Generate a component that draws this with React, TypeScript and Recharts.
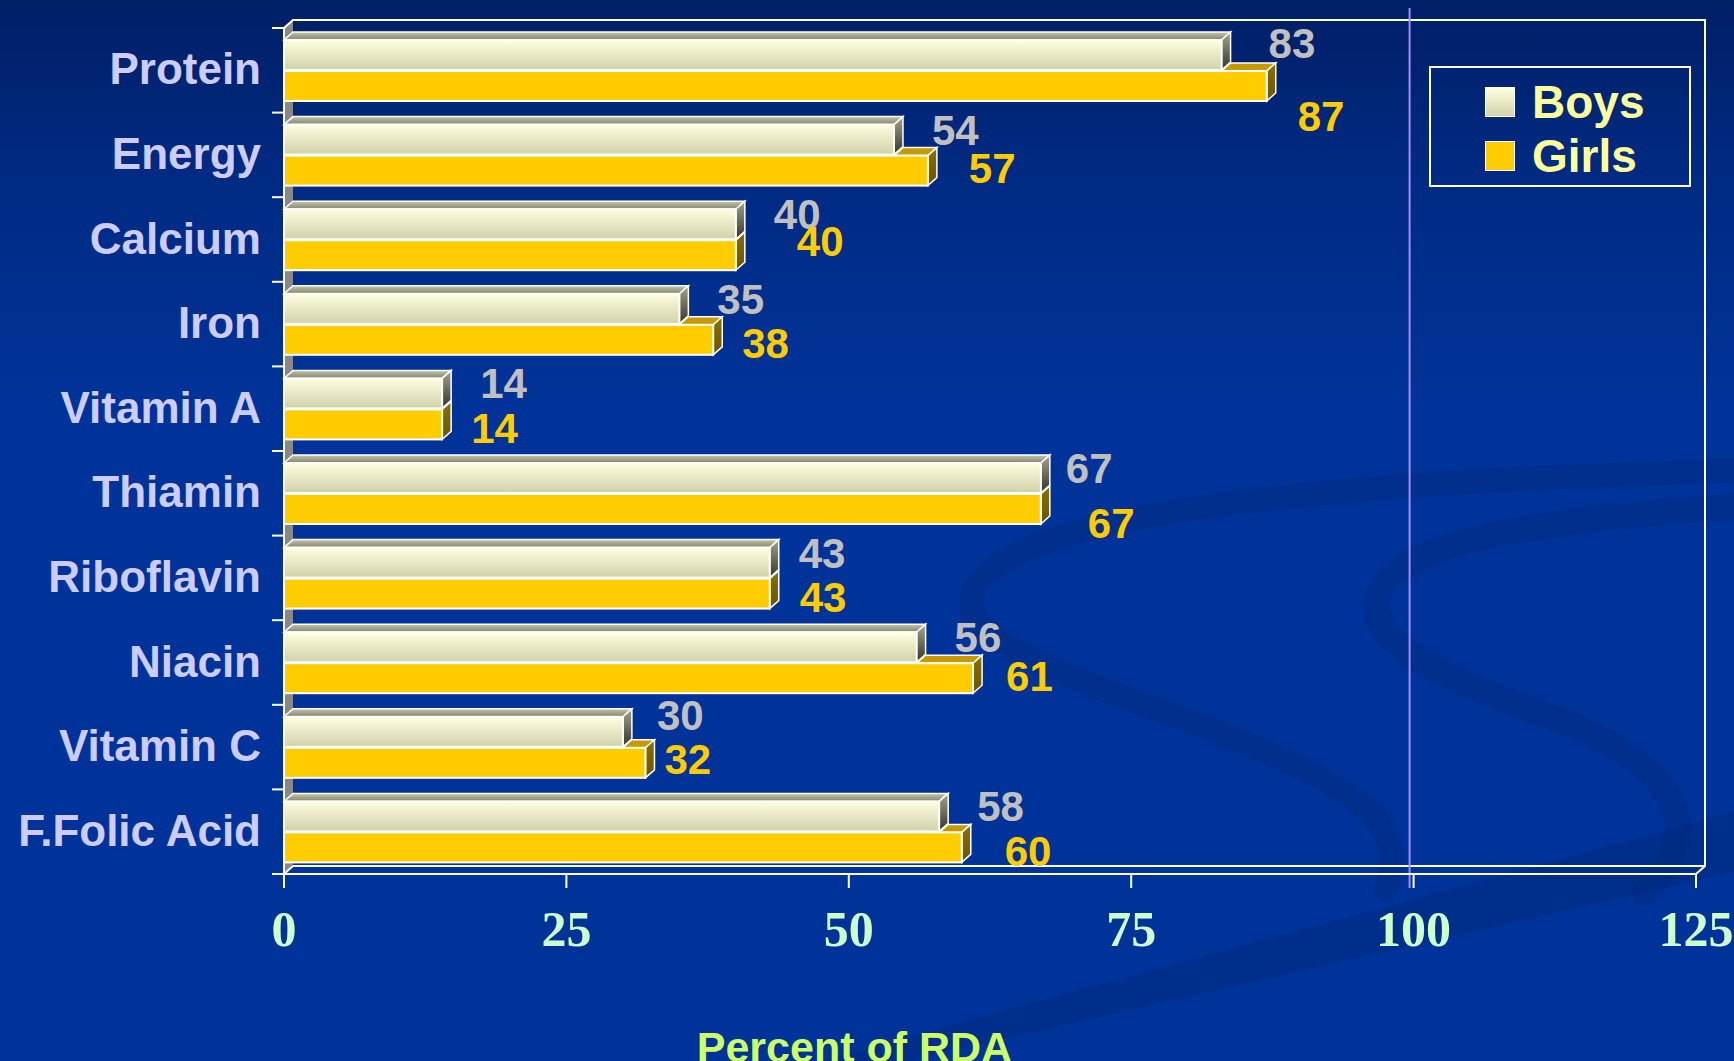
import React from "react";
import {
  BarChart,
  Bar,
  XAxis,
  YAxis,
  Legend,
  LabelList,
  ReferenceLine,
} from "recharts";

// nutrient intake as percent of RDA
const nutrients = [
  "Protein",
  "Energy",
  "Calcium",
  "Iron",
  "Vitamin A",
  "Thiamin",
  "Riboflavin",
  "Niacin",
  "Vitamin C",
  "F.Folic Acid",
];
const boysPct = [83, 54, 40, 35, 14, 67, 43, 56, 30, 58];
const girlsPct = [87, 57, 40, 38, 14, 67, 43, 61, 32, 60];
const valueTicks = [0, 25, 50, 75, 100, 125];

const data = nutrients.map((name, i) => ({
  name,
  boys: boysPct[i],
  girls: girlsPct[i],
}));

const W = 1734;
const H = 1061;
const PLOT = { left: 284, right: 1696, top: 28, bottom: 874 };
const DEPTH = { dx: 9, dy: 8 };
const BAND = (PLOT.bottom - PLOT.top) / nutrients.length;

const SANS = '"Liberation Sans", Arial, sans-serif';
const SERIF = '"Liberation Serif", "Times New Roman", serif';

// hand-placed value labels, offsets from the default spot
const BOYS_NUDGE = [
  [9, -2], [0, 0], [0, 0], [0, 0], [0, 0],
  [-13, 0], [-9, 0], [0, 0], [-4, -7], [0, 0],
];
const GIRLS_NUDGE = [
  [-2, 26], [8, -6], [28, -18], [-4, 0], [-4, 0],
  [14, 10], [-3, 0], [0, -6], [-14, -7], [10, 0],
];

function face(pts: number[][]) {
  return pts.map((p) => p.join(",")).join(" ");
}

function BoysBar(props: any) {
  const { x, y, width: w, height: h } = props;
  if (!w || w <= 0) return null;
  const { dx, dy } = DEPTH;
  return (
    <g>
      <polygon
        points={face([[x, y], [x + w, y], [x + w + dx, y - dy], [x + dx, y - dy]])}
        fill="url(#boysTop)"
        stroke="#fff"
        strokeWidth={1.5}
      />
      <polygon
        points={face([[x + w, y], [x + w + dx, y - dy], [x + w + dx, y + h - dy], [x + w, y + h]])}
        fill="url(#boysSide)"
        stroke="#fff"
        strokeWidth={1.5}
      />
      <rect x={x} y={y} width={w} height={h} fill="url(#boysFront)" stroke="#fff" strokeWidth={2} />
    </g>
  );
}

function GirlsBar(props: any) {
  const { x, y, width: w, height: h, payload } = props;
  if (!w || w <= 0) return null;
  const { dx, dy } = DEPTH;
  const end = x + w;
  // only the part of the top face not hidden under the boys bar shows
  const boysEnd = x + (w * payload.boys) / payload.girls;
  return (
    <g>
      {boysEnd < end - 0.5 && (
        <polygon
          points={face([[boysEnd, y], [end, y], [end + dx, y - dy], [boysEnd + dx, y - dy]])}
          fill="#c49a00"
          stroke="#fff"
          strokeWidth={1.5}
        />
      )}
      <polygon
        points={face([[end, y], [end + dx, y - dy], [end + dx, y + h - dy], [end, y + h]])}
        fill="url(#girlsSide)"
        stroke="#fff"
        strokeWidth={1.5}
      />
      <rect x={x} y={y} width={w} height={h} fill="#ffcc00" stroke="#fff" strokeWidth={2} />
    </g>
  );
}

function valueLabel(color: string, gap: number, shiftY: number, nudge: number[][]) {
  return (props: any) => {
    const { x, y, width, height, value, index } = props;
    const [nx, ny] = nudge[index] || [0, 0];
    return (
      <text
        x={x + width + DEPTH.dx + gap + nx}
        y={y + height / 2 + shiftY + ny + 15}
        fill={color}
        fontFamily={SANS}
        fontWeight="bold"
        fontSize={42}
      >
        {value}
      </text>
    );
  };
}

function CategoryTick(props: any) {
  const { y, payload } = props;
  const last = payload.index === nutrients.length - 1;
  return (
    <g>
      <line x1={PLOT.left - 12} x2={PLOT.left} y1={y - BAND / 2} y2={y - BAND / 2} stroke="#fff" strokeWidth={2} />
      {last && (
        <line x1={PLOT.left - 12} x2={PLOT.left} y1={y + BAND / 2} y2={y + BAND / 2} stroke="#fff" strokeWidth={2} />
      )}
      <text
        x={PLOT.left - 23}
        y={y + 14}
        textAnchor="end"
        fill="#ccccff"
        fontFamily={SANS}
        fontWeight="bold"
        fontSize={44}
      >
        {payload.value}
      </text>
    </g>
  );
}

function ValueTick(props: any) {
  const { x, y, payload } = props;
  return (
    <text
      x={x}
      y={y + 58}
      textAnchor="middle"
      fill="#ccffcc"
      fontFamily={SERIF}
      fontWeight="bold"
      fontSize={50}
    >
      {payload.value}
    </text>
  );
}

function AxisTitle(props: any) {
  const vb = props.viewBox || { x: PLOT.left, y: PLOT.bottom, width: PLOT.right - PLOT.left };
  return (
    <text
      x={vb.x + vb.width * 0.404}
      y={vb.y + 188}
      textAnchor="middle"
      fill="#ccff66"
      fontFamily={SANS}
      fontWeight="bold"
      fontSize={43}
    >
      Percent of RDA
    </text>
  );
}

const swatch: Record<string, string> = {
  boys: "linear-gradient(#ffffe0, #d2d2ac)",
  girls: "#ffcc00",
};

function LegendBox(props: any) {
  const items = props.payload || [];
  return (
    <div
      style={{
        width: 262,
        height: 121,
        boxSizing: "border-box",
        border: "2px solid #fff",
        padding: "7px 0 0 54px",
      }}
    >
      {items.map((it: any) => (
        <div key={it.value} style={{ display: "flex", alignItems: "center", height: 54 }}>
          <span
            style={{
              width: 30,
              height: 30,
              background: swatch[it.dataKey],
              border: "1.5px solid #fff",
              boxSizing: "border-box",
              marginRight: 17,
            }}
          />
          <span
            style={{
              color: "#ffff99",
              fontFamily: SANS,
              fontWeight: "bold",
              fontSize: 46,
              lineHeight: 1,
            }}
          >
            {it.value}
          </span>
        </div>
      ))}
    </div>
  );
}

// slide backdrop: swooshes and the 3D box behind the bars
function Backdrop() {
  const { left: l, right: r, top: t, bottom: b } = PLOT;
  const { dx, dy } = DEPTH;
  return (
    <svg width={W} height={H} style={{ position: "absolute", left: 0, top: 0 }}>
      <g fill="none" stroke="#00266e" strokeOpacity={0.28} strokeLinecap="round">
        <path d="M1760 470 C1450 478 1110 498 1005 560 C925 610 1000 652 1110 692 C1300 762 1425 805 1385 890" strokeWidth={24} />
        <path d="M1760 505 C1600 515 1425 532 1385 582 C1345 642 1455 682 1565 722 C1685 772 1705 832 1645 892" strokeWidth={26} />
      </g>
      <polygon points="820,1061 905,1061 1734,872 1734,812" fill="#00266e" fillOpacity={0.3} />
      <polygon
        points={face([[l, t], [l + dx, t - dy], [l + dx, b - dy], [l, b]])}
        fill="#888888"
      />
      <g stroke="#fff" strokeWidth={2} fill="none">
        <polyline points={face([[l, t], [l + dx, t - dy], [r + dx, t - dy], [r + dx, b - dy], [r, b]])} />
        <line x1={l + dx} x2={r + dx} y1={b - dy} y2={b - dy} />
        <line x1={l} x2={l + dx} y1={b} y2={b - dy} />
      </g>
    </svg>
  );
}

export default function App() {
  return (
    <div
      style={{
        position: "fixed",
        left: 0,
        top: 0,
        width: W,
        height: H,
        overflow: "hidden",
        background: "linear-gradient(180deg, #001f66 0%, #002a82 16%, #003399 38%, #003399 100%)",
      }}
    >
      <Backdrop />
      <div style={{ position: "absolute", left: 0, top: 0 }}>
        <BarChart
          width={W}
          height={H}
          data={data}
          layout="vertical"
          margin={{ top: PLOT.top, right: W - PLOT.right, bottom: 0, left: 0 }}
          barSize={30}
          barGap={1}
        >
          <defs>
            <linearGradient id="boysFront" x1="0" y1="0" x2="0" y2="1">
              <stop offset="0%" stopColor="#ffffe0" />
              <stop offset="100%" stopColor="#d0d0aa" />
            </linearGradient>
            <linearGradient id="boysTop" x1="0" y1="0" x2="0" y2="1">
              <stop offset="0%" stopColor="#c4c4aa" />
              <stop offset="100%" stopColor="#84846c" />
            </linearGradient>
            <linearGradient id="boysSide" x1="0" y1="0" x2="0" y2="1">
              <stop offset="0%" stopColor="#a4a48a" />
              <stop offset="100%" stopColor="#34342a" />
            </linearGradient>
            <linearGradient id="girlsSide" x1="0" y1="0" x2="0" y2="1">
              <stop offset="0%" stopColor="#8c7000" />
              <stop offset="100%" stopColor="#6a5400" />
            </linearGradient>
          </defs>
          <XAxis
            type="number"
            domain={[0, 125]}
            ticks={valueTicks}
            height={H - PLOT.bottom}
            axisLine={{ stroke: "#fff", strokeWidth: 2 }}
            tickLine={{ stroke: "#fff", strokeWidth: 2 }}
            tickSize={14}
            tickMargin={0}
            tick={<ValueTick />}
            label={<AxisTitle />}
          />
          <YAxis
            type="category"
            dataKey="name"
            width={PLOT.left}
            interval={0}
            axisLine={{ stroke: "#fff", strokeWidth: 2 }}
            tickLine={false}
            tick={<CategoryTick />}
          />
          <ReferenceLine
            x={100}
            shape={(p: any) => (
              <line x1={p.x1 - 4} x2={p.x2 - 4} y1={8} y2={888} stroke="#a48cff" strokeWidth={2} />
            )}
          />
          <Legend
            layout="vertical"
            align="center"
            verticalAlign="middle"
            content={<LegendBox />}
            wrapperStyle={{ position: "absolute", left: 1429, top: 66, width: 262, height: 121 }}
          />
          <Bar dataKey="boys" name="Boys" fill="#ffffe0" shape={<BoysBar />} isAnimationActive={false}>
            <LabelList dataKey="boys" content={valueLabel("#c0c0c0", 29, -10, BOYS_NUDGE)} />
          </Bar>
          <Bar dataKey="girls" name="Girls" fill="#ffcc00" shape={<GirlsBar />} isAnimationActive={false}>
            <LabelList dataKey="girls" content={valueLabel("#ffcc00", 24, 3.5, GIRLS_NUDGE)} />
          </Bar>
        </BarChart>
      </div>
    </div>
  );
}
